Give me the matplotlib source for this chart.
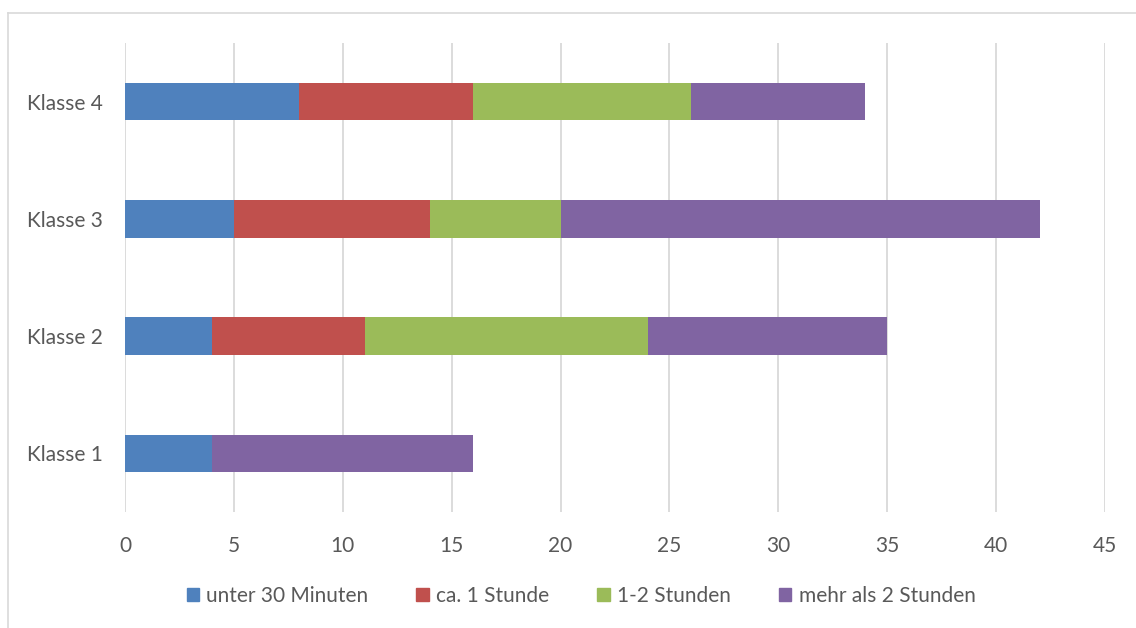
import numpy as np
import matplotlib.pyplot as plt
from matplotlib.patches import Patch

plt.rcParams['font.family'] = ['Lato', 'DejaVu Sans']

klassen = ["Klasse 1", "Klasse 2", "Klasse 3", "Klasse 4"]
serien = ["unter 30 Minuten", "ca. 1 Stunde", "1-2 Stunden", "mehr als 2 Stunden"]
unter30 = [4, 4, 5, 8]
ca1 = [0, 7, 9, 8]
eins_zwei = [0, 13, 6, 10]
mehr2 = [12, 11, 22, 8]
farben = ["#4F81BD", "#C0504D", "#9BBB59", "#8064A2"]

fig = plt.figure(figsize=(11.36, 6.28), dpi=100)
ax = fig.add_axes([125/1136, 1 - 512/628, 980/1136, 469/628])

y = np.arange(len(klassen))
left = np.zeros(len(klassen))
for werte, farbe in zip([unter30, ca1, eins_zwei, mehr2], farben):
    ax.barh(y, werte, left=left, height=0.32, color=farbe, zorder=3)
    left += np.array(werte)

ax.set_xlim(0, 45)
ax.set_ylim(-0.5, 3.5)
ax.set_xticks(np.arange(0, 46, 5))
ax.set_yticks(y)
ax.set_yticklabels(klassen)
ax.grid(axis="x", color="#D9D9D9", linewidth=1.3, zorder=0)
for s in ax.spines.values():
    s.set_visible(False)
ax.tick_params(length=0, labelsize=15, colors="#595959")
ax.tick_params(axis="x", pad=17)
ax.tick_params(axis="y", pad=16)

handles = [Patch(color=c) for c in farben]
fig.legend(handles, serien, loc="center", bbox_to_anchor=(581/1136, 1 - 596/628),
           ncol=4, frameon=False, fontsize=15, labelcolor="#595959",
           handlelength=0.6, handleheight=0.6, handletextpad=0.35, columnspacing=2.3)

# light frame, cut at the right and bottom
fig.add_artist(plt.Line2D([8/1136, 1], [1 - 13/628] * 2, color="#D9D9D9", lw=1.2))
fig.add_artist(plt.Line2D([8/1136] * 2, [0, 1 - 13/628], color="#D9D9D9", lw=1.2))

fig.savefig("out.png", dpi=100)
